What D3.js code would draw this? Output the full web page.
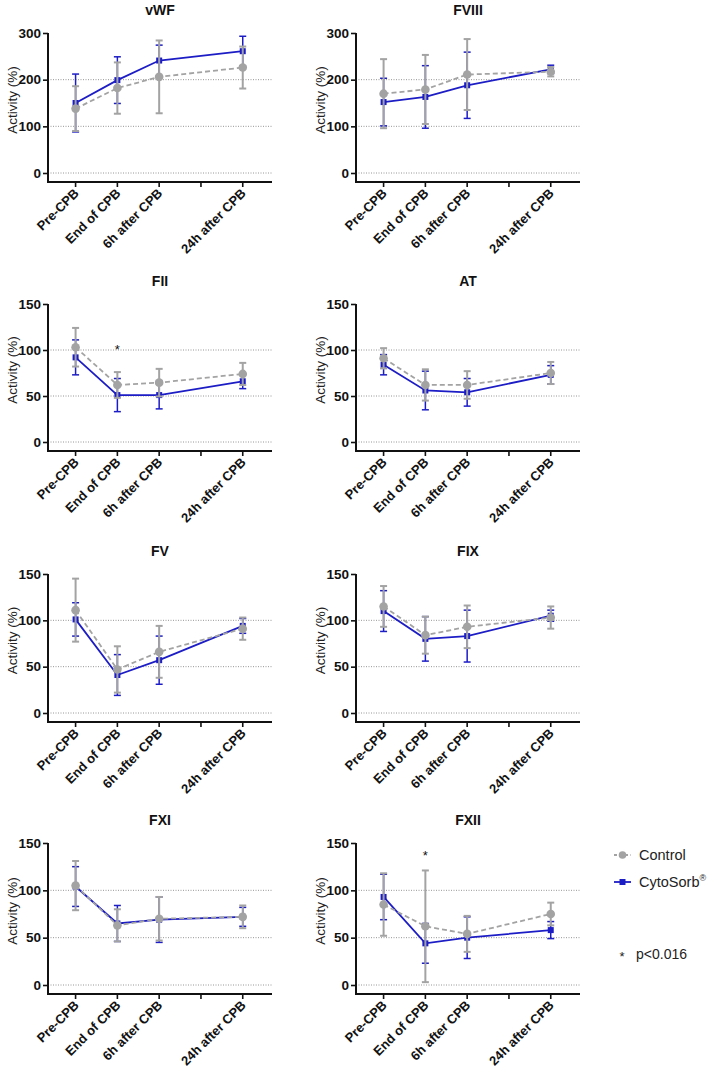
<!DOCTYPE html>
<html>
<head>
<meta charset="utf-8">
<script src="https://cdn.jsdelivr.net/npm/d3@7"></script>
<style>
  body { margin: 0; background: #fff; }
  svg { display: block; font-family: "Liberation Sans", Arial, sans-serif; }
</style>
</head>
<body>
<svg id="chart" width="709" height="1070"></svg>
<script>
// time points (the empty slot at index 3 gets a tick but no label)
const timepoints = ["Pre-CPB", "End of CPB", "6h after CPB", "24h after CPB"];
const timeIndex = [0, 1, 2, 4];

// panels, left to right, top to bottom
const panels = ["vWF", "FVIII", "FII", "AT", "FV", "FIX", "FXI", "FXII"];
const yMax = [300, 300, 150, 150, 150, 150, 150, 150];
const yTicks = [
  [0, 100, 200, 300], [0, 100, 200, 300],
  [0, 50, 100, 150], [0, 50, 100, 150],
  [0, 50, 100, 150], [0, 50, 100, 150],
  [0, 50, 100, 150], [0, 50, 100, 150]
];

// Control: mean and SD
const controlMean = [
  [138, 182, 206, 226], [170, 179, 211, 217],
  [103, 62, 64.5, 74], [91, 62, 62, 75],
  [111, 47, 66, 91], [115, 84, 93, 103],
  [105, 63, 70, 72], [85, 62, 54, 75]
];
const controlSd = [
  [48, 55, 78, 45], [74, 74, 76, 10],
  [21, 14, 15, 12], [11, 17, 15, 12],
  [34, 25, 28, 12], [22, 20, 23, 12],
  [26, 17, 23, 12], [33, 59, 19, 12]
];

// CytoSorb: mean and SD
const cytoMean = [
  [150, 199, 241, 261], [152, 163, 188, 222],
  [92, 51, 51, 66], [84, 56, 54, 73],
  [101, 41, 57, 94], [110, 80, 83, 105],
  [104, 65, 69, 72], [93, 44, 50, 58]
];
const cytoSd = [
  [62, 50, 33, 32], [51, 67, 71, 9],
  [19, 18, 15, 8], [11, 21, 15, 10],
  [18, 22, 26, 8], [22, 24, 28, 6],
  [21, 19, 24, 10], [24, 21, 22, 9]
];

// significance marks: [panel, time point, y value]
const sigMarks = [[2, 1, 102], [7, 1, 138]];

const seriesNames = ["Control", "CytoSorb"];
const pLabel = "p<0.016";

// layout
const colX = [48, 356];
const plotW = 224;
const rowTop = [33, 304, 574, 843];
const rowH = [140, 138, 139, 142];
const below = 9;

const gray = "#a3a3a3";
const blue = "#1d1dc6";

const svg = d3.select("#chart");

panels.forEach((name, p) => {
  const col = p % 2, row = Math.floor(p / 2);
  const h = rowH[row];
  const g = svg.append("g")
    .attr("transform", "translate(" + colX[col] + "," + rowTop[row] + ")");

  const x = d3.scaleLinear().domain([-0.66, 4.7]).range([0, plotW]);
  const y = d3.scaleLinear().domain([0, yMax[p]]).range([h, 0]);

  // grid
  g.selectAll(".grid")
    .data(yTicks[p].filter(t => t < yMax[p]))
    .enter().append("line")
    .attr("x1", 0).attr("x2", plotW)
    .attr("y1", d => y(d)).attr("y2", d => y(d))
    .attr("stroke", "#8a8a8a")
    .attr("stroke-width", 0.9)
    .attr("stroke-dasharray", "1,1.5");

  // y axis
  const yAxis = d3.axisLeft(y).tickValues(yTicks[p]).tickSize(5).tickPadding(2);
  const ya = g.append("g").call(yAxis);
  ya.select(".domain").remove();
  ya.append("line")
    .attr("x1", 0).attr("x2", 0)
    .attr("y1", 0).attr("y2", h + below + 1)
    .attr("stroke", "#111").attr("stroke-width", 2);
  ya.selectAll(".tick line").attr("stroke", "#111").attr("stroke-width", 1.6);
  ya.selectAll(".tick text")
    .attr("fill", "#111")
    .style("font-size", "13.5px")
    .style("font-weight", "bold")
    .style("font-family", "Liberation Sans, Arial, sans-serif");

  // x axis
  const xa = g.append("g").attr("transform", "translate(0," + (h + below) + ")");
  xa.append("line")
    .attr("x1", -1).attr("x2", plotW)
    .attr("stroke", "#111").attr("stroke-width", 2);
  xa.selectAll(".xt")
    .data([0, 1, 2, 3, 4])
    .enter().append("line")
    .attr("x1", d => x(d)).attr("x2", d => x(d))
    .attr("y1", 0).attr("y2", 5)
    .attr("stroke", "#111").attr("stroke-width", 1.6);
  xa.selectAll(".xl")
    .data(timepoints)
    .enter().append("text")
    .attr("transform", (d, i) => "translate(" + (x(timeIndex[i]) + 4) + ",12) rotate(-45)")
    .attr("text-anchor", "end")
    .style("font-size", "13px")
    .style("font-weight", "bold")
    .attr("fill", "#111")
    .text(d => d);

  // title
  g.append("text")
    .attr("x", plotW / 2).attr("y", -18)
    .attr("text-anchor", "middle")
    .style("font-size", "14px")
    .style("font-weight", "bold")
    .attr("fill", "#111")
    .text(name);

  // y label
  g.append("text")
    .attr("transform", "translate(-31," + (h / 2 - 3) + ") rotate(-90)")
    .attr("text-anchor", "middle")
    .style("font-size", "13.5px")
    .attr("fill", "#222")
    .text("Activity (%)");

  // series: CytoSorb first, Control on top
  const series = [
    { mean: cytoMean[p], sd: cytoSd[p], color: blue, dash: null, lw: 1.8, ew: 1.5 },
    { mean: controlMean[p], sd: controlSd[p], color: gray, dash: "5,3", lw: 1.8, ew: 2 }
  ];
  series.forEach(s => {
    const pts = s.mean.map((m, i) => ({ x: x(timeIndex[i]), m: m, sd: s.sd[i] }));
    const line = d3.line().x(d => d.x).y(d => y(d.m));
    g.append("path")
      .datum(pts)
      .attr("d", line)
      .attr("fill", "none")
      .attr("stroke", s.color)
      .attr("stroke-width", s.lw)
      .attr("stroke-dasharray", s.dash);
    const eb = g.selectAll(null).data(pts).enter().append("g");
    eb.append("line")
      .attr("x1", d => d.x).attr("x2", d => d.x)
      .attr("y1", d => y(d.m - d.sd)).attr("y2", d => y(d.m + d.sd))
      .attr("stroke", s.color).attr("stroke-width", s.ew);
    [-1, 1].forEach(k => {
      eb.append("line")
        .attr("x1", d => d.x - 3.5).attr("x2", d => d.x + 3.5)
        .attr("y1", d => y(d.m + k * d.sd)).attr("y2", d => y(d.m + k * d.sd))
        .attr("stroke", s.color).attr("stroke-width", s.ew);
    });
    if (s.dash) {
      eb.append("circle")
        .attr("cx", d => d.x).attr("cy", d => y(d.m))
        .attr("r", 4.3).attr("fill", s.color);
    } else {
      eb.append("rect")
        .attr("x", d => d.x - 3).attr("y", d => y(d.m) - 3)
        .attr("width", 6).attr("height", 6)
        .attr("fill", s.color);
    }
  });

  // significance
  sigMarks.filter(m => m[0] === p).forEach(m => {
    g.append("text")
      .attr("x", x(timeIndex[m[1]])).attr("y", y(m[2]) + 6)
      .attr("text-anchor", "middle")
      .style("font-size", "13px")
      .attr("fill", "#111")
      .text("*");
  });
});

// legend
const legend = svg.append("g").attr("transform", "translate(614,0)");
const legY = [855, 882];
legend.append("line")
  .attr("x1", 0).attr("x2", 17).attr("y1", legY[0]).attr("y2", legY[0])
  .attr("stroke", gray).attr("stroke-width", 1.8).attr("stroke-dasharray", "3,2.5");
legend.append("circle").attr("cx", 8.5).attr("cy", legY[0]).attr("r", 3.8).attr("fill", gray);
legend.append("line")
  .attr("x1", 0).attr("x2", 17).attr("y1", legY[1]).attr("y2", legY[1])
  .attr("stroke", blue).attr("stroke-width", 1.8);
legend.append("rect").attr("x", 5.5).attr("y", legY[1] - 3).attr("width", 6).attr("height", 6).attr("fill", blue);
legend.append("text")
  .attr("x", 25).attr("y", legY[0] + 5)
  .style("font-size", "14.5px").attr("fill", "#222")
  .text(seriesNames[0]);
const cyto = legend.append("text")
  .attr("x", 25).attr("y", legY[1] + 5)
  .style("font-size", "14.5px").attr("fill", "#222");
cyto.append("tspan").text(seriesNames[1]);
cyto.append("tspan").attr("dy", -6).style("font-size", "9px").text("®");

legend.append("text")
  .attr("x", 8).attr("y", 961)
  .attr("text-anchor", "middle")
  .style("font-size", "13px").attr("fill", "#222")
  .text("*");
legend.append("text")
  .attr("x", 22).attr("y", 959)
  .style("font-size", "14px").attr("fill", "#222")
  .text(pLabel);
</script>
</body>
</html>
